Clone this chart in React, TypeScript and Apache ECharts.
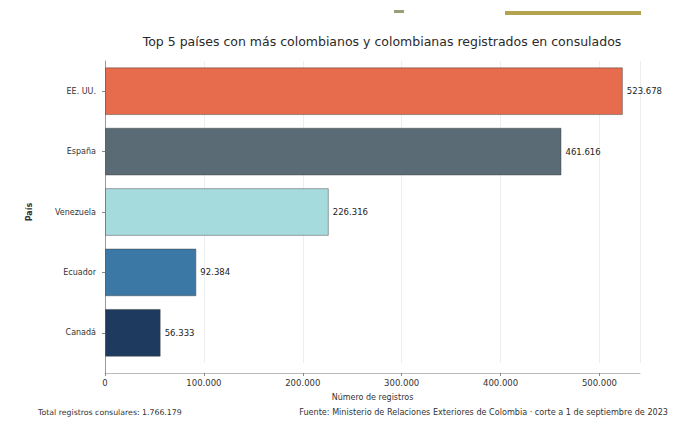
import React, { useEffect, useRef } from "react";
import * as echarts from "echarts";

const countries = ["Canadá", "Ecuador", "Venezuela", "España", "EE. UU."];
const registros = [56333, 92384, 226316, 461616, 523678];
const barColors = ["#1f3a5f", "#3b78a5", "#a6dbde", "#5b6b75", "#e76b4d"];
const xTicks = [0, 100000, 200000, 300000, 400000, 500000];

const fmtDots = (v: number) => String(v).replace(/\B(?=(\d{3})+(?!\d))/g, ".");

export default function App() {
  const ref = useRef<HTMLDivElement>(null);
  useEffect(() => {
    document.body.style.margin = "0";
    if (!ref.current) return;
    const chart = echarts.init(ref.current, null, { renderer: "svg" });
    chart.setOption({
      animation: false,
      backgroundColor: "#ffffff",
      textStyle: { fontFamily: "DejaVu Sans" },
      title: {
        text: "Top 5 países con más colombianos y colombianas registrados en consulados",
        left: 377,
        textAlign: "center",
        top: 30,
        textStyle: { fontSize: 12.5, fontWeight: "normal", color: "#2a2a2a" },
      },
      grid: { left: 105, right: 48, top: 61, bottom: 60 },
      xAxis: {
        type: "value",
        min: 0,
        max: 541000,
        interval: 100000,
        offset: 10,
        name: "Número de registros",
        nameLocation: "middle",
        nameGap: 20,
        nameTextStyle: { fontSize: 8, color: "#333" },
        axisLine: { show: true, lineStyle: { color: "#bbb" } },
        axisTick: { show: true, length: 3, lineStyle: { color: "#888" } },
        axisLabel: {
          fontSize: 8.5,
          color: "#333",
          margin: 5,
          showMaxLabel: false,
          formatter: (v: number) => (xTicks.includes(v) ? fmtDots(v) : ""),
        },
        splitLine: { show: true, lineStyle: { color: "#eeeeee", width: 1 } },
      },
      yAxis: {
        type: "category",
        data: countries,
        name: "País",
        nameLocation: "middle",
        nameGap: 72,
        nameRotate: 90,
        nameTextStyle: { fontSize: 8, color: "#333", fontWeight: "bold" },
        axisLine: { show: true, lineStyle: { color: "#999" } },
        axisTick: { show: true, alignWithLabel: true, length: 3, lineStyle: { color: "#888" } },
        axisLabel: { fontSize: 8, color: "#333", margin: 9 },
      },
      series: [
        {
          type: "bar",
          barCategoryGap: "21%",
          data: registros.map((v, i) => ({
            value: v,
            itemStyle: { color: barColors[i], borderColor: "rgba(60,60,60,0.45)", borderWidth: 1 },
          })),
          label: {
            show: true,
            position: "right",
            distance: 4,
            fontSize: 8.5,
            color: "#222",
            formatter: (p: any) => fmtDots(p.value),
          },
        },
      ],
      graphic: [
        { type: "line", shape: { x1: 105.5, y1: 362, x2: 105.5, y2: 374 }, style: { stroke: "#999", lineWidth: 1 } },
        { type: "rect", shape: { x: 394, y: 10, width: 10, height: 3 }, style: { fill: "#7a8a55", opacity: 0.8 } },
        { type: "rect", shape: { x: 505, y: 11, width: 136, height: 4 }, style: { fill: "#b4a24e" } },
        {
          type: "text",
          left: 38,
          top: 408,
          style: { text: "Total registros consulares: 1.766.179", fontSize: 7.8, fill: "#333", fontFamily: "DejaVu Sans" },
        },
        {
          type: "text",
          right: 20,
          top: 408,
          style: {
            text: "Fuente: Ministerio de Relaciones Exteriores de Colombia · corte a 1 de septiembre de 2023",
            fontSize: 8.1,
            fill: "#333",
            fontFamily: "DejaVu Sans",
          },
        },
      ],
    });
    return () => chart.dispose();
  }, []);
  return <div ref={ref} style={{ width: 688, height: 423 }} />;
}
